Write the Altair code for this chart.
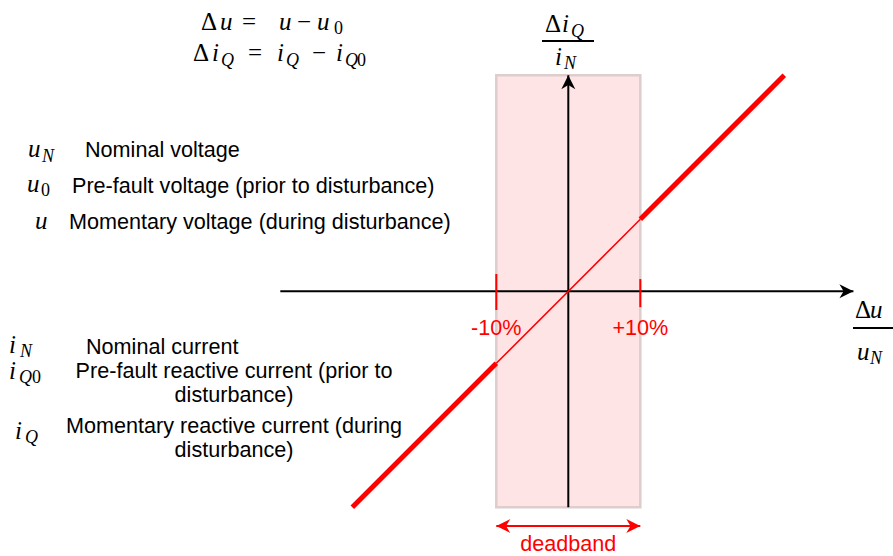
import altair as alt
import pandas as pd

# ---- characteristic values (all in % of nominal) ----
DEADBAND = [-10, 10]                  # Δu/uN limits of the deadband
BAND_SPAN = [-30, 30]                 # vertical extent of the shaded band
CHAR_DU = [-30, -10, 10, 30]          # Δu/uN breakpoints
CHAR_DIQ = [-30, -10, 10, 30]         # ΔiQ/iN at the breakpoints
CHAR_SEGMENTS = ["active", "deadband", "active"]
X_AXIS = [-40, 39.6]
Y_AXIS = [-30, 30]
TICK_LABELS = ["-10%", "+10%"]
TICK_TOP = [2.4, 1.7]
TICK_BOTTOM = [-2.6, -2.2]
DEADBAND_ARROW_Y = -32.6

# ---- legend text ----
VOLT_TEXT = ["Nominal voltage",
             "Pre-fault voltage (prior to disturbance)",
             "Momentary voltage (during disturbance)"]
CURR_TEXT = ["Nominal current"]
CURR_TEXT_WRAPPED = ["Pre-fault reactive current (prior to", "disturbance)",
                     "Momentary reactive current (during", "disturbance)"]

# ---- canvas layout ----
W, H = 893, 556
ORIGIN_X, ORIGIN_Y = 568.3, 291.3     # pixel position of (0, 0)
PX_PER_PCT = 7.2

RED = "#ff0000"
SANS = "Liberation Sans"
SANS_SIZE = 21.6
MATH = "Liberation Serif"
M, S = 25, 18                         # math main / subscript font sizes

xs = alt.Scale(domain=[-ORIGIN_X / PX_PER_PCT, (W - ORIGIN_X) / PX_PER_PCT], nice=False, zero=False)
ys = alt.Scale(domain=[-(H - ORIGIN_Y) / PX_PER_PCT, ORIGIN_Y / PX_PER_PCT], nice=False, zero=False)
cx = alt.Scale(domain=[0, W], nice=False, zero=False)
cy = alt.Scale(domain=[0, H], reverse=True, nice=False, zero=False)


def gx(f="x"):
    return alt.X(f"{f}:Q", scale=xs, axis=None)


def gy(f="y"):
    return alt.Y(f"{f}:Q", scale=ys, axis=None)


def px(f="x"):
    return alt.X(f"{f}:Q", scale=cx, axis=None)


def py(f="y"):
    return alt.Y(f"{f}:Q", scale=cy, axis=None)


# shaded deadband
band_df = pd.DataFrame({"x": [DEADBAND[0]], "x2": [DEADBAND[1]], "y": [BAND_SPAN[0]], "y2": [BAND_SPAN[1]]})
band = alt.Chart(band_df).mark_rect(fill="#ffe4e6", stroke="#ddcdcd", strokeWidth=2.5).encode(
    x=gx(), x2="x2:Q", y=gy(), y2="y2:Q")

# coordinate axes
axes_df = pd.DataFrame({"x": [X_AXIS[0], 0], "x2": [X_AXIS[1], 0],
                        "y": [0, Y_AXIS[0]], "y2": [0, Y_AXIS[1]]})
axes = alt.Chart(axes_df).mark_rule(color="#000000", strokeWidth=2).encode(
    x=gx(), x2="x2:Q", y=gy(), y2="y2:Q")

# characteristic line: thin inside the deadband, thick outside
seg_df = pd.DataFrame({
    "x": CHAR_DU[:-1], "x2": CHAR_DU[1:],
    "y": CHAR_DIQ[:-1], "y2": CHAR_DIQ[1:],
    "w": [5 if s == "active" else 1.6 for s in CHAR_SEGMENTS],
})
char = alt.Chart(seg_df).mark_rule(color=RED, strokeCap="butt").encode(
    x=gx(), x2="x2:Q", y=gy(), y2="y2:Q", size=alt.Size("w:Q", scale=None))

# deadband limit ticks and labels
tick_df = pd.DataFrame({"x": DEADBAND, "y": TICK_BOTTOM, "y2": TICK_TOP, "label": TICK_LABELS, "y0": [0, 0]})
ticks = alt.Chart(tick_df).mark_rule(color=RED, strokeWidth=2).encode(x=gx(), y=gy(), y2="y2:Q")
tick_labels = alt.Chart(tick_df).mark_text(
    color=RED, font=SANS, fontSize=SANS_SIZE, align="center", baseline="alphabetic", dy=44
).encode(x=gx(), y=gy("y0"), text="label:N")

# deadband width arrow
db_df = pd.DataFrame({"x": [DEADBAND[0]], "x2": [DEADBAND[1]], "y": [DEADBAND_ARROW_Y], "label": ["deadband"], "xc": [0]})
db_rule = alt.Chart(db_df).mark_rule(color=RED, strokeWidth=2).encode(x=gx(), x2="x2:Q", y=gy())
db_label = alt.Chart(db_df).mark_text(
    color=RED, font=SANS, fontSize=SANS_SIZE, align="center", baseline="alphabetic", dy=25
).encode(x=gx("xc"), y=gy(), text="label:N")

# arrow heads (tip at the anchor point, pointing along +x before rotation)
ARROW = "M0,0 L-2,-1 L-1.4,0 L-2,1 Z"
head_df = pd.DataFrame({
    "x": [X_AXIS[1], 0, DEADBAND[0], DEADBAND[1]],
    "y": [0, Y_AXIS[1], DEADBAND_ARROW_Y, DEADBAND_ARROW_Y],
    "angle": [0, 270, 180, 0],
    "color": ["#000000", "#000000", RED, RED],
})
heads = alt.Chart(head_df).mark_point(shape=ARROW, filled=True, size=196, opacity=1, strokeWidth=0).encode(
    x=gx(), y=gy(), angle=alt.Angle("angle:Q", scale=None), color=alt.Color("color:N", scale=None))

# ---- annotation text placed on the pixel canvas ----
left_text = pd.DataFrame({
    "text": VOLT_TEXT + CURR_TEXT,
    "x": [85, 72, 69, 86],
    "y": [157, 193, 229, 354],
})
center_text = pd.DataFrame({
    "text": CURR_TEXT_WRAPPED,
    "x": [234, 234, 234, 234],
    "y": [378, 402, 433, 457],
})
sans_left = alt.Chart(left_text).mark_text(font=SANS, fontSize=SANS_SIZE, align="left", baseline="alphabetic",
                                           color="#000000").encode(x=px(), y=py(), text="text:N")
sans_center = alt.Chart(center_text).mark_text(font=SANS, fontSize=SANS_SIZE, align="center", baseline="alphabetic",
                                               color="#000000").encode(x=px(), y=py(), text="text:N")

# math glyphs: (text, x, baseline, size)
italic_pieces = [
    ("u", 220, 30, M), ("u", 279, 30, M), ("u", 317, 30, M),
    ("i", 212, 61, M), ("Q", 221, 66, S), ("i", 277, 61, M), ("Q", 286, 66, S),
    ("i", 336, 61, M), ("Q", 345, 66, S),
    ("u", 28, 157, M), ("N", 42, 162, S),
    ("u", 27, 192, M),
    ("u", 35, 229, M),
    ("i", 9, 353, M), ("N", 20, 357, S),
    ("i", 9, 379, M), ("Q", 19, 383, S),
    ("i", 15, 439, M), ("Q", 25, 443, S),
    ("i", 562, 32, M), ("Q", 571, 37, S),
    ("i", 555, 65, M), ("N", 564, 69, S),
    ("u", 870, 318, M),
    ("u", 857, 360, M), ("N", 870, 364, S),
]
roman_pieces = [
    ("Δ", 201, 30, M), ("=", 242, 30, M), ("−", 297, 30, M), ("0", 334, 34, S),
    ("Δ", 193, 61, M), ("=", 248, 61, M), ("−", 312, 61, M), ("0", 357, 66, S),
    ("0", 41, 196, S),
    ("0", 32, 383, S),
    ("Δ", 545, 32, M),
    ("Δ", 855, 318, M),
]
ital_df = pd.DataFrame(italic_pieces, columns=["text", "x", "y", "s"])
rom_df = pd.DataFrame(roman_pieces, columns=["text", "x", "y", "s"])
math_it = alt.Chart(ital_df).mark_text(font=MATH, fontStyle="italic", align="left", baseline="alphabetic",
                                       color="#000000").encode(
    x=px(), y=py(), text="text:N", size=alt.Size("s:Q", scale=None))
math_rm = alt.Chart(rom_df).mark_text(font=MATH, align="left", baseline="alphabetic",
                                      color="#000000").encode(
    x=px(), y=py(), text="text:N", size=alt.Size("s:Q", scale=None))

# fraction bars of the axis titles
bars_df = pd.DataFrame({"x": [542, 853], "x2": [594, 893], "y": [41, 328]})
bars = alt.Chart(bars_df).mark_rule(color="#000000", strokeWidth=2).encode(x=px(), x2="x2:Q", y=py())

chart = alt.layer(
    band, axes, char, ticks, db_rule, heads, tick_labels, db_label,
    sans_left, sans_center, math_it, math_rm, bars,
).resolve_scale(x="independent", y="independent").properties(
    width=W, height=H, padding=0, autosize=alt.AutoSizeParams(type="none"), background="#ffffff"
).configure_view(strokeWidth=0)

chart.save("out.html", embed_options={"renderer": "svg", "actions": False})
